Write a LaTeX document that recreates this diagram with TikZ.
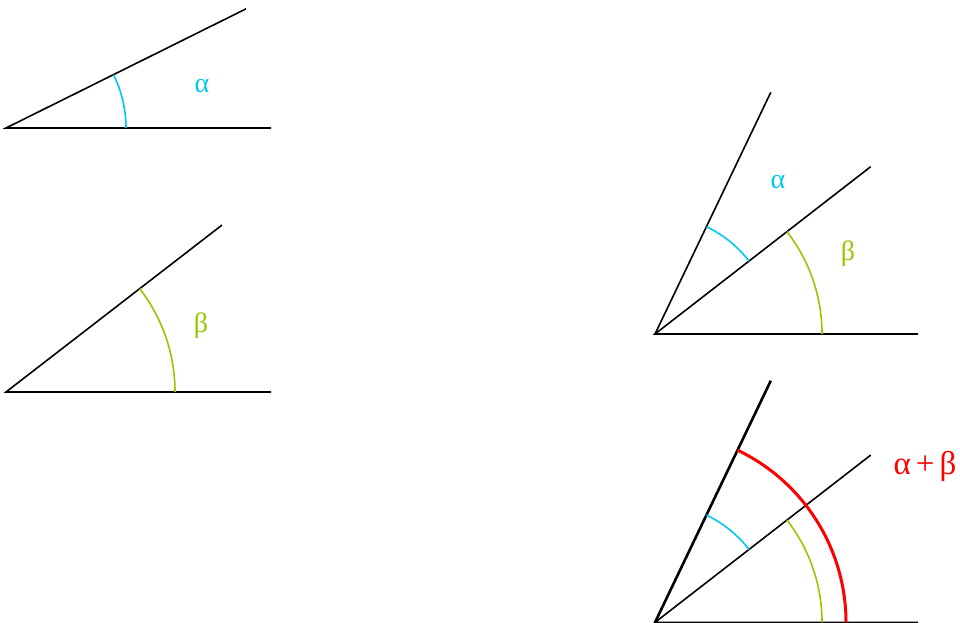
\documentclass[tikz,border=0pt]{standalone}
\usepackage{fontspec}
\setmainfont{Liberation Serif}
\usetikzlibrary{calc}
\definecolor{acol}{RGB}{0,200,240}
\definecolor{bcol}{RGB}{150,200,0}
\definecolor{rcol}{RGB}{255,0,0}
\begin{document}
\begin{tikzpicture}[x=1pt,y=1pt,
  ray/.style={line width=1.6pt,black},
  thickray/.style={line width=2.6pt,black},
  arca/.style={line width=1.6pt,acol},
  arcb/.style={line width=1.6pt,bcol},
  arcr/.style={line width=3pt,rcol},
  lbl/.style={font=\fontsize{28}{30}\selectfont,inner sep=0pt},
  rlbl/.style={font=\fontsize{33}{36}\selectfont,inner sep=0pt,text=rcol}]
\useasboundingbox (0,0) rectangle (960,623);
% figure A
\coordinate (va) at (6,495);
\coordinate (ha) at (271,495);
\coordinate (ra) at ($(va)+(26.4:268)$);
\draw[ray] (ha) -- (va) -- (ra);
\draw[arca] ($(va)+(0:120)$) arc[start angle=0,end angle=26.4,radius=120];
\node[lbl,text=acol] (la) at (202,537) {α};
% figure B
\coordinate (vb) at (6,231);
\coordinate (hb) at (271,231);
\coordinate (rb) at ($(vb)+(37.7:273)$);
\draw[ray] (hb) -- (vb) -- (rb);
\draw[arcb] ($(vb)+(0:169)$) arc[start angle=0,end angle=37.7,radius=169];
\node[lbl,text=bcol] (lb) at (201,297) {β};
% figure C
\coordinate (vc) at (655,289);
\coordinate (hc) at (918,289);
\coordinate (rcb) at ($(vc)+(37.8:273)$);
\coordinate (rcab) at ($(vc)+(64.4:268)$);
\draw[ray] (hc) -- (vc) -- (rcb);
\draw[ray] (vc) -- (rcab);
\draw[arca] ($(vc)+(37.8:119)$) arc[start angle=37.8,end angle=64.4,radius=119];
\draw[arcb] ($(vc)+(0:167)$) arc[start angle=0,end angle=37.8,radius=167];
\node[lbl,text=acol] (lca) at (778,441) {α};
\node[lbl,text=bcol] (lcb) at (848,369) {β};
% figure D
\coordinate (vd) at (655,0.6);
\coordinate (hd) at (918,0.6);
\coordinate (rdb) at ($(vd)+(37.8:273)$);
\coordinate (rdab) at ($(vd)+(64.4:268)$);
\draw[ray] (hd) -- (vd) -- (rdb);
\draw[thickray] (vd) -- (rdab);
\draw[arca] ($(vd)+(37.8:119)$) arc[start angle=37.8,end angle=64.4,radius=119];
\draw[arcb] ($(vd)+(0:167)$) arc[start angle=0,end angle=37.8,radius=167];
\draw[arcr] ($(vd)+(0:191)$) arc[start angle=0,end angle=64.4,radius=191];
\node[rlbl] (ld) at (925,157) {α\hspace{5pt}+\hspace{5pt}β};
\end{tikzpicture}
\end{document}
